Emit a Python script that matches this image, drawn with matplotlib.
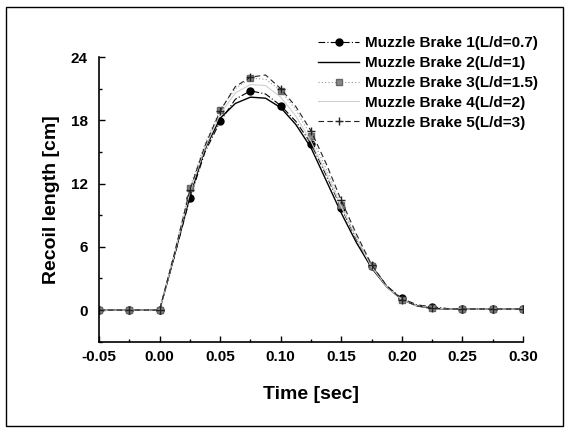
import matplotlib.pyplot as plt
from matplotlib.patches import Rectangle
from matplotlib.ticker import MultipleLocator, FormatStrFormatter

plt.rcParams['font.family'] = ['Liberation Sans', 'DejaVu Sans']
plt.rcParams['font.weight'] = 'bold'

# time samples (sec), markers drawn every 0.025 s
time = [-0.05, -0.0375, -0.025, -0.0125, 0.0, 0.0125, 0.025, 0.0375, 0.05, 0.0625,
        0.075, 0.0875, 0.1, 0.1125, 0.125, 0.1375, 0.15, 0.1625, 0.175, 0.1875,
        0.2, 0.2125, 0.225, 0.2375, 0.25, 0.2625, 0.275, 0.2875, 0.3]

brake1 = [0, 0, 0, 0, 0, 5.2, 10.6, 15.0, 17.9, 20.0,
          20.8, 20.5, 19.4, 17.9, 15.8, 12.8, 9.7, 6.7, 4.2, 2.3,
          1.1, 0.5, 0.3, 0.15, 0.1, 0.1, 0.1, 0.1, 0.1]
brake2 = [0, 0, 0, 0, 0, 5.3, 10.8, 15.3, 18.2, 19.6,
          20.2, 20.1, 19.2, 17.6, 15.4, 12.3, 9.2, 6.4, 4.0, 2.2,
          1.0, 0.4, 0.15, 0.1, 0.1, 0.1, 0.1, 0.1, 0.1]
brake3 = [0, 0, 0, 0, 0, 5.6, 11.6, 15.8, 19.0, 21.0,
          22.0, 21.9, 20.8, 19.0, 16.5, 13.4, 10.0, 6.9, 4.2, 2.3,
          1.0, 0.5, 0.2, 0.1, 0.1, 0.1, 0.1, 0.1, 0.1]
brake4 = [0, 0, 0, 0, 0, 5.4, 11.2, 15.4, 18.6, 20.6,
          21.4, 21.3, 20.2, 18.4, 16.0, 13.0, 9.8, 6.8, 4.1, 2.2,
          1.0, 0.4, 0.2, 0.1, 0.1, 0.1, 0.1, 0.1, 0.1]
brake5 = [0, 0, 0, 0, 0, 5.5, 11.4, 15.6, 18.9, 21.2,
          22.1, 22.3, 21.0, 19.3, 17.0, 13.9, 10.4, 7.2, 4.3, 2.3,
          1.0, 0.4, 0.2, 0.1, 0.1, 0.1, 0.1, 0.1, 0.1]

labels = ['Muzzle Brake 1(L/d=0.7)', 'Muzzle Brake 2(L/d=1)',
          'Muzzle Brake 3(L/d=1.5)', 'Muzzle Brake 4(L/d=2)',
          'Muzzle Brake 5(L/d=3)']

fig = plt.figure(figsize=(5.66, 4.28), dpi=100)
ax = fig.add_axes([0.175, 0.2016, 0.749, 0.665])

ax.plot(time, brake1, color='black', lw=0.8, ls=(0, (6, 2, 1, 2)),
        marker='o', ms=5, markevery=2, label=labels[0])
ax.plot(time, brake2, color='black', lw=1.0, ls='-', label=labels[1])
ax.plot(time, brake3, color='#999999', lw=0.8, ls=(0, (1, 2)),
        marker='s', ms=5, mfc='#888888', mec='#666666', markevery=2, label=labels[2])
ax.plot(time, brake4, color='#d0d0d0', lw=0.8, ls='-', label=labels[3])
ax.plot(time, brake5, color='#222222', lw=0.8, ls=(0, (5, 3)),
        marker='+', ms=6, markevery=2, label=labels[4])

ax.set_xlim(-0.05, 0.30)
ax.set_ylim(-3, 24)
ax.xaxis.set_major_locator(MultipleLocator(0.05))
ax.xaxis.set_minor_locator(MultipleLocator(0.025))
ax.yaxis.set_major_locator(MultipleLocator(6))
ax.yaxis.set_minor_locator(MultipleLocator(3))
ax.xaxis.set_major_formatter(FormatStrFormatter('%.2f'))
ax.tick_params(which='major', direction='in', length=4, width=1, labelsize=11)
ax.tick_params(axis='y', which='major', pad=8)
ax.tick_params(axis='x', which='major', pad=6)
ax.tick_params(which='minor', direction='in', length=2.5, width=1)
ax.spines['top'].set_visible(False)
ax.spines['right'].set_visible(False)
ax.spines['left'].set_linewidth(1.2)
ax.spines['bottom'].set_linewidth(1.2)
for lab in ax.get_xticklabels() + ax.get_yticklabels():
    lab.set_fontweight('bold')

ax.set_xlabel('Time [sec]', fontsize=14, fontweight='bold', labelpad=16)
ax.set_ylabel('Recoil length [cm]', fontsize=14, fontweight='bold', labelpad=8)

fig.legend(loc='upper left', bbox_to_anchor=(0.562, 0.915), frameon=False,
           prop={'weight': 'bold', 'size': 11}, handlelength=2.7,
           handletextpad=0.4, labelspacing=0.38, borderpad=0, borderaxespad=0)

fig.patches.append(Rectangle((0.01, 0.004), 0.985, 0.98, transform=fig.transFigure,
                             fill=False, edgecolor='black', lw=1.0))

fig.savefig('out.png', dpi=100)
